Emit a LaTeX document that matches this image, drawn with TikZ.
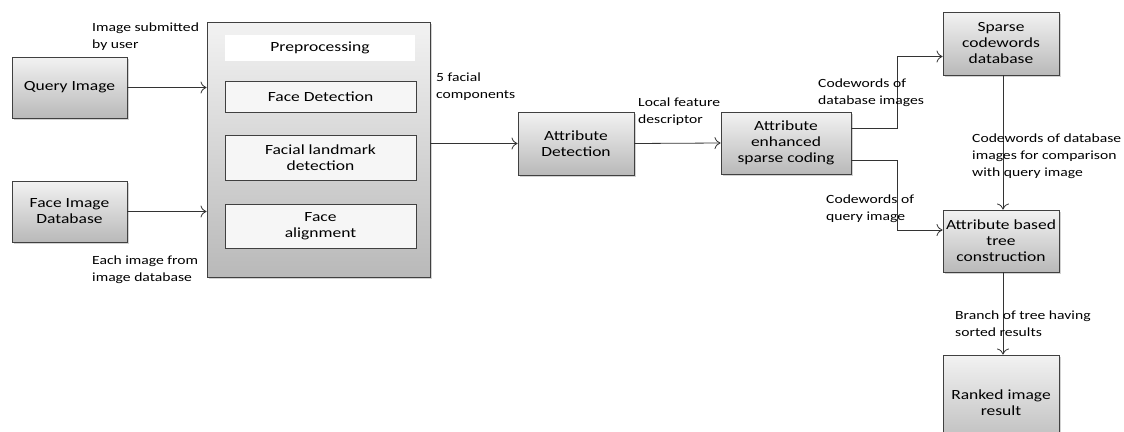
\documentclass[tikz,border=0pt]{standalone}
\usepackage{fontspec}
\setmainfont{Carlito}[FakeStretch=1.25]
\usetikzlibrary{arrows.meta,shadows}

\tikzset{
  blockbox/.style={draw=black!75,line width=0.9pt,top color=gray!10,bottom color=gray!55,
    drop shadow={shadow xshift=1.5pt,shadow yshift=-1.5pt,opacity=.35},
    align=center,inner sep=2pt,font=\fontsize{14}{16}\selectfont},
  stepbox/.style={draw=black!75,line width=0.9pt,fill=gray!7,align=center,
    inner sep=2pt,minimum width=191pt,font=\fontsize{14}{16}\selectfont},
  lbl/.style={anchor=north west,align=left,inner sep=0pt,font=\fontsize{12.5}{17}\selectfont},
  link/.style={-{To[length=6pt,width=12pt]},line width=0.8pt,black!80}
}

\begin{document}
\begin{tikzpicture}[x=1pt,y=-1pt]
                \useasboundingbox[fill=white](0,0)rectangle(1124,431);
                % input images
                \coordinate(Q)at(69.5,87.5);
                \coordinate(D)at(69.5,211.5);
                \node[blockbox,minimum width=115pt,minimum height=61pt](query)at(Q){Query Image};
                \node[blockbox,minimum width=115pt,minimum height=61pt](facedb)at(D){Face Image\\Database};
                % preprocessing block
                \coordinate(P)at(318.5,149.5);
                \node[blockbox,minimum width=223pt,minimum height=255pt](prep)at(P){};
                \node[fill=white,minimum width=190pt,minimum height=26pt,font=\fontsize{14}{16}\selectfont](prephead)at(320,48){Preprocessing};
                \node[stepbox,minimum height=31pt](facedet)at(320.5,96.5){Face Detection};
                \node[stepbox,minimum height=45pt](landmark)at(320.5,157.5){Facial landmark\\detection};
                \node[stepbox,minimum height=44pt](faligned)at(320.5,226){Face\\alignment};
                % attribute part
                \coordinate(A)at(576,143.5);
                \coordinate(S)at(786,143);
                \node[blockbox,minimum width=116pt,minimum height=63pt](attrdet)at(A){Attribute\\Detection};
                \node[blockbox,minimum width=130pt,minimum height=62pt](sparse)at(S){Attribute\\enhanced\\sparse coding};
                % right column
                \coordinate(C)at(1001,43.5);
                \coordinate(T)at(1001,241);
                \coordinate(R)at(1001,403);
                \node[blockbox,minimum width=116pt,minimum height=63pt](codedb)at(C){Sparse\\codewords\\database};
                \node[blockbox,minimum width=116pt,minimum height=62pt](tree)at(T){Attribute based\\tree\\construction};
                \node[blockbox,minimum width=116pt,minimum height=96pt](ranked)at(R){Ranked image\\result};
                % connectors
                \draw[link](query.east)--(query.east-|prep.west);
                \draw[link](facedb.east)--(facedb.east-|prep.west);
                \draw[link](prep.east|-attrdet.west)--(attrdet.west);
                \draw[link](attrdet.east)--(sparse.west);
                \draw[link]([yshift=15pt]sparse.east)--++(46,0)|-([yshift=-13pt]codedb.west);
                \draw[link]([yshift=-17pt]sparse.east)--++(46,0)|-([yshift=11pt]tree.west);
                \draw[link]([xshift=2pt]codedb.south)--([xshift=2pt]tree.north);
                \draw[link]([xshift=2pt]tree.south)--([xshift=2pt]ranked.north);
                % labels
                \node[lbl](l1)at(92,23){Image submitted\\by user};
                \node[lbl](l2)at(92,256){Each image from\\image database};
                \node[lbl](l3)at(436,73){5 facial\\components};
                \node[lbl](l4)at(638,98){Local feature\\descriptor};
                \node[lbl](l5)at(818,79){Codewords of\\database images};
                \node[lbl](l6)at(826,195){Codewords of\\query image};
                \node[lbl](l7)at(972,134){Codewords of database\\images for comparison\\with query image};
                \node[lbl](l8)at(955,311){Branch of tree having\\sorted results};
            \end{tikzpicture}
\end{document}
